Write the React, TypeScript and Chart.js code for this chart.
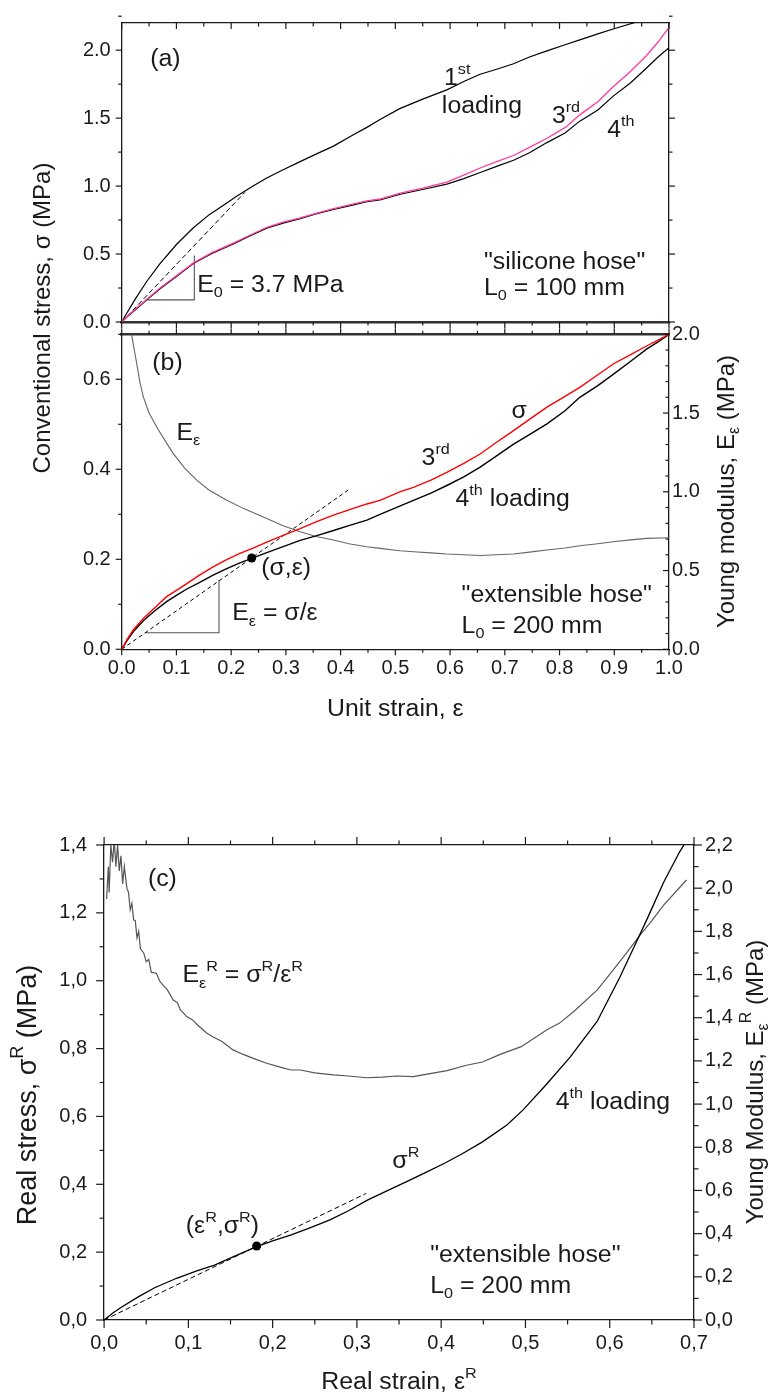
import { useEffect, useRef } from 'react';
import { Chart, registerables } from 'chart.js';

Chart.register(...registerables);

const FONT = '"Liberation Sans", Arial, Helvetica, sans-serif';
const INK = '#1a1a1a';

// ---------------- panel (a): silicone hose ----------------
const A_FIRST_X = [0, 0.01, 0.025, 0.046, 0.07, 0.1, 0.13, 0.16, 0.19, 0.21, 0.24, 0.265, 0.295, 0.326, 0.355, 0.387, 0.42, 0.448, 0.472, 0.508, 0.55, 0.594, 0.625, 0.655, 0.685, 0.716, 0.745, 0.777, 0.81, 0.837, 0.87, 0.898, 0.935, 0.96];
const A_FIRST_Y = [0, 0.07, 0.17, 0.30, 0.43, 0.57, 0.69, 0.79, 0.87, 0.925, 1.0, 1.06, 1.12, 1.18, 1.235, 1.294, 1.37, 1.432, 1.49, 1.57, 1.64, 1.708, 1.77, 1.823, 1.86, 1.90, 1.95, 1.995, 2.04, 2.076, 2.12, 2.156, 2.20, 2.235];
const A_THIRD_X = [0, 0.01, 0.025, 0.046, 0.07, 0.1, 0.131, 0.165, 0.204, 0.235, 0.265, 0.295, 0.326, 0.355, 0.387, 0.42, 0.448, 0.472, 0.509, 0.55, 0.594, 0.625, 0.655, 0.685, 0.716, 0.745, 0.777, 0.81, 0.837, 0.87, 0.898, 0.93, 0.959, 0.98, 1.0];
const A_THIRD_Y = [0, 0.04, 0.095, 0.168, 0.25, 0.34, 0.435, 0.51, 0.581, 0.64, 0.697, 0.735, 0.766, 0.80, 0.834, 0.865, 0.892, 0.905, 0.949, 0.985, 1.03, 1.08, 1.133, 1.18, 1.225, 1.285, 1.352, 1.43, 1.524, 1.62, 1.731, 1.845, 1.961, 2.06, 2.168];
const A_FOURTH_X = [0, 0.01, 0.025, 0.046, 0.07, 0.1, 0.131, 0.165, 0.204, 0.235, 0.265, 0.295, 0.326, 0.355, 0.387, 0.42, 0.448, 0.472, 0.509, 0.55, 0.594, 0.625, 0.655, 0.685, 0.716, 0.745, 0.777, 0.81, 0.837, 0.87, 0.898, 0.93, 0.959, 0.98, 1.0];
const A_FOURTH_Y = [0, 0.038, 0.09, 0.163, 0.245, 0.335, 0.43, 0.505, 0.575, 0.635, 0.69, 0.728, 0.76, 0.795, 0.828, 0.858, 0.885, 0.898, 0.94, 0.975, 1.015, 1.055, 1.10, 1.145, 1.19, 1.245, 1.32, 1.39, 1.478, 1.56, 1.662, 1.76, 1.869, 1.95, 2.018];
const A_TANGENT_X = [0, 0.225];
const A_TANGENT_Y = [0, 0.954];
const A_SLOPE_X = [0.0438, 0.1327, 0.1327];
const A_SLOPE_Y = [0.163, 0.163, 0.49];

// ---------------- panel (b): extensible hose ----------------
const B_THIRD_X = [0, 0.01, 0.021, 0.04, 0.06, 0.082, 0.1, 0.119, 0.14, 0.167, 0.19, 0.216, 0.24, 0.265, 0.295, 0.326, 0.355, 0.387, 0.415, 0.448, 0.472, 0.508, 0.533, 0.565, 0.594, 0.625, 0.655, 0.685, 0.716, 0.745, 0.777, 0.81, 0.837, 0.87, 0.898, 0.93, 0.959, 0.98, 1.0];
const B_THIRD_Y = [0, 0.022, 0.043, 0.069, 0.092, 0.117, 0.131, 0.146, 0.163, 0.183, 0.198, 0.213, 0.225, 0.238, 0.253, 0.268, 0.283, 0.298, 0.31, 0.323, 0.331, 0.35, 0.36, 0.376, 0.393, 0.413, 0.434, 0.46, 0.486, 0.511, 0.538, 0.562, 0.582, 0.61, 0.634, 0.655, 0.674, 0.687, 0.70];
const B_FOURTH_X = [0, 0.01, 0.021, 0.04, 0.06, 0.082, 0.1, 0.119, 0.14, 0.167, 0.19, 0.216, 0.24, 0.265, 0.295, 0.326, 0.355, 0.387, 0.415, 0.448, 0.472, 0.508, 0.533, 0.565, 0.594, 0.625, 0.655, 0.685, 0.716, 0.745, 0.777, 0.81, 0.837, 0.87, 0.898, 0.93, 0.959, 0.98, 1.0];
const B_FOURTH_Y = [0, 0.02, 0.039, 0.064, 0.085, 0.106, 0.12, 0.134, 0.147, 0.165, 0.178, 0.192, 0.203, 0.215, 0.228, 0.242, 0.252, 0.264, 0.275, 0.287, 0.300, 0.318, 0.331, 0.347, 0.364, 0.383, 0.405, 0.43, 0.456, 0.477, 0.501, 0.53, 0.56, 0.586, 0.611, 0.64, 0.667, 0.683, 0.70];
const B_MODULUS_X = [0.018, 0.023, 0.0274, 0.033, 0.0395, 0.05, 0.064, 0.08, 0.094, 0.115, 0.137, 0.16, 0.192, 0.225, 0.265, 0.295, 0.326, 0.355, 0.387, 0.415, 0.448, 0.472, 0.508, 0.533, 0.565, 0.594, 0.625, 0.655, 0.685, 0.716, 0.745, 0.777, 0.81, 0.837, 0.87, 0.898, 0.93, 0.959, 1.0];
const B_MODULUS_Y = [2.0, 1.9, 1.815, 1.70, 1.603, 1.50, 1.412, 1.32, 1.244, 1.15, 1.074, 1.01, 0.947, 0.89, 0.831, 0.785, 0.746, 0.716, 0.694, 0.67, 0.651, 0.641, 0.626, 0.619, 0.612, 0.605, 0.60, 0.596, 0.60, 0.605, 0.617, 0.63, 0.643, 0.657, 0.67, 0.683, 0.695, 0.704, 0.708];
const B_SECANT_X = [0, 0.414];
const B_SECANT_Y = [0, 0.354];
const B_SLOPE_X = [0.0438, 0.1778, 0.1778];
const B_SLOPE_Y = [0.0368, 0.0368, 0.1535];
const B_POINT_X = [0.2375];
const B_POINT_Y = [0.203];

// ---------------- panel (c): real stress / strain ----------------
const C_SIGMA_X = [0, 0.01, 0.02, 0.041, 0.06, 0.086, 0.11, 0.131, 0.155, 0.181, 0.2, 0.222, 0.245, 0.268, 0.29, 0.313, 0.335, 0.359, 0.38, 0.404, 0.425, 0.449, 0.478, 0.4975, 0.525, 0.553, 0.585, 0.612, 0.628, 0.644, 0.664, 0.683, 0.6905, 0.70];
const C_SIGMA_Y = [0, 0.02, 0.037, 0.069, 0.095, 0.123, 0.145, 0.162, 0.188, 0.216, 0.233, 0.251, 0.272, 0.295, 0.322, 0.354, 0.38, 0.408, 0.433, 0.462, 0.49, 0.525, 0.575, 0.62, 0.695, 0.775, 0.88, 1.01, 1.095, 1.18, 1.29, 1.38, 1.41, 1.46];
const C_MODULUS_X = [0.003, 0.005, 0.006, 0.008, 0.010, 0.012, 0.014, 0.016, 0.018, 0.020, 0.022, 0.024, 0.027, 0.029, 0.031, 0.033, 0.035, 0.037, 0.039, 0.041, 0.043, 0.047, 0.050, 0.053, 0.056, 0.062, 0.066, 0.070, 0.075, 0.082, 0.087, 0.090, 0.098, 0.105, 0.110, 0.122, 0.130, 0.140, 0.153, 0.165, 0.177, 0.193, 0.210, 0.222, 0.233, 0.250, 0.272, 0.290, 0.312, 0.330, 0.347, 0.367, 0.385, 0.407, 0.430, 0.449, 0.470, 0.495, 0.525, 0.540, 0.557, 0.585, 0.604, 0.620, 0.636, 0.650, 0.664, 0.691];
const C_MODULUS_Y = [1.95, 2.10, 1.98, 2.20, 2.12, 2.22, 2.10, 2.20, 2.08, 2.15, 2.02, 2.10, 2.00, 1.98, 1.90, 1.93, 1.853, 1.85, 1.77, 1.80, 1.72, 1.70, 1.66, 1.67, 1.61, 1.606, 1.57, 1.55, 1.53, 1.482, 1.47, 1.44, 1.405, 1.39, 1.37, 1.328, 1.31, 1.29, 1.251, 1.23, 1.212, 1.189, 1.17, 1.158, 1.158, 1.145, 1.135, 1.13, 1.122, 1.125, 1.13, 1.127, 1.14, 1.155, 1.18, 1.195, 1.23, 1.266, 1.343, 1.374, 1.428, 1.528, 1.621, 1.70, 1.783, 1.85, 1.922, 2.038];
const C_SECANT_X = [0, 0.311];
const C_SECANT_Y = [0, 0.373];
const C_POINT_X = [0.181];
const C_POINT_Y = [0.218];

// ---------------- text labels (anchored in data units) ----------------
const A_NOTES = [
  { x: 0.052, y: 1.886, t: '(a)' },
  { x: 0.589, y: 1.742, t: '1^{st}' },
  { x: 0.585, y: 1.535, t: 'loading' },
  { x: 0.786, y: 1.466, t: '3^{rd}' },
  { x: 0.887, y: 1.363, t: '4^{th}' },
  { x: 0.662, y: 0.388, t: '"silicone hose"' },
  { x: 0.662, y: 0.202, t: 'L_{0} = 100 mm' },
  { x: 0.138, y: 0.223, t: 'E_{0} = 3.7 MPa' },
];
const B_NOTES = [
  { x: 0.056, y: 0.62, t: '(b)' },
  { x: 0.1, y: 0.466, t: 'E_{ε}' },
  { x: 0.255, y: 0.1646, t: '(σ,ε)' },
  { x: 0.202, y: 0.0649, t: 'E_{ε} = σ/ε' },
  { x: 0.712, y: 0.513, t: 'σ' },
  { x: 0.548, y: 0.41, t: '3^{rd}' },
  { x: 0.61, y: 0.3175, t: '4^{th} loading' },
  { x: 0.621, y: 0.1054, t: '"extensible hose"' },
  { x: 0.621, y: 0.0368, t: 'L_{0} = 200 mm' },
];
const C_NOTES = [
  { x: 0.052, y: 1.28, t: '(c)' },
  { x: 0.093, y: 0.996, t: 'E_{ε}^{R} = σ^{R}/ε^{R}' },
  { x: 0.342, y: 0.449, t: 'σ^{R}' },
  { x: 0.097, y: 0.256, t: '(ε^{R},σ^{R})' },
  { x: 0.536, y: 0.622, t: '4^{th} loading' },
  { x: 0.387, y: 0.172, t: '"extensible hose"' },
  { x: 0.387, y: 0.08, t: 'L_{0} = 200 mm' },
];

const X_TICKS_AB = [0, 1, 0.1];
const X_TICKS_C = [0, 0.7, 0.1];

// ---------------- rich text helpers ----------------
type Seg = { t: string; k?: 'sup' | 'sub' };
function parseRich(s: string): Seg[] {
  const out: Seg[] = [];
  let buf = '';
  let i = 0;
  while (i < s.length) {
    const c = s[i];
    if ((c === '_' || c === '^') && s[i + 1] === '{') {
      if (buf) { out.push({ t: buf }); buf = ''; }
      const end = s.indexOf('}', i + 2);
      out.push({ t: s.slice(i + 2, end), k: c === '_' ? 'sub' : 'sup' });
      i = end + 1;
    } else {
      buf += c;
      i++;
    }
  }
  if (buf) out.push({ t: buf });
  return out;
}

const STRETCH = 1.08;

function drawRich(ctx: CanvasRenderingContext2D, text: string, x: number, y: number, size: number, align: 'left' | 'center', rot = 0) {
  const segs = parseRich(text);
  ctx.save();
  ctx.translate(x, y);
  if (rot) ctx.rotate(rot);
  else ctx.scale(STRETCH, 1);
  ctx.textAlign = 'left';
  ctx.textBaseline = 'alphabetic';
  ctx.fillStyle = INK;
  const fontOf = (k?: string) => `${k ? Math.round(size * 0.66) : size}px ${FONT}`;
  let w = 0;
  for (const s of segs) { ctx.font = fontOf(s.k); w += ctx.measureText(s.t).width; }
  let cx = align === 'center' ? -w / 2 : 0;
  const base = rot ? size * 0.36 : 0;
  for (const s of segs) {
    ctx.font = fontOf(s.k);
    const dy = s.k === 'sup' ? -size * 0.48 : s.k === 'sub' ? size * 0.24 : 0;
    ctx.fillText(s.t, cx, base + dy);
    cx += ctx.measureText(s.t).width;
  }
  ctx.restore();
}

type Note = { x: number; y: number; t: string; yAxis?: string };
type Title = { t: string; x: number; y: number; size: number; rot?: number };
function textPlugin(notes: Note[], titles: Title[], size: number) {
  return {
    id: 'richText',
    afterDraw(chart: any) {
      const ctx = chart.ctx as CanvasRenderingContext2D;
      const xs = chart.scales.x;
      for (const n of notes) {
        const ys = chart.scales[n.yAxis || 'y'];
        drawRich(ctx, n.t, xs.getPixelForValue(n.x), ys.getPixelForValue(n.y), size, 'left');
      }
      for (const t of titles) drawRich(ctx, t.t, t.x, t.y, t.size, 'center', t.rot || 0);
    },
  };
}

type TickSpec = { id: string; major: number; minor: number; dir: 'in' | 'out'; len: number; mlen: number };
function ticksPlugin(specs: TickSpec[]) {
  return {
    id: 'axisTicks',
    afterDraw(chart: any) {
      const ctx = chart.ctx as CanvasRenderingContext2D;
      ctx.save();
      ctx.strokeStyle = INK;
      ctx.lineWidth = 1.2;
      for (const sp of specs) {
        const sc = chart.scales[sp.id];
        if (!sc) continue;
        const n = Math.round((sc.max - sc.min) / sp.minor);
        const s = sp.dir === 'out' ? 1 : -1;
        const pos = sc.options.position;
        for (let i = 0; i <= n; i++) {
          const v = sc.min + i * sp.minor;
          const r = v / sp.major;
          const isMajor = Math.abs(r - Math.round(r)) < 1e-6;
          const L = isMajor ? sp.len : sp.mlen;
          const p = sc.getPixelForValue(v);
          ctx.beginPath();
          if (pos === 'bottom') { ctx.moveTo(p, sc.top); ctx.lineTo(p, sc.top + s * L); }
          else if (pos === 'top') { ctx.moveTo(p, sc.bottom); ctx.lineTo(p, sc.bottom - s * L); }
          else if (pos === 'left') { ctx.moveTo(sc.right, p); ctx.lineTo(sc.right - s * L, p); }
          else { ctx.moveTo(sc.left, p); ctx.lineTo(sc.left + s * L, p); }
          ctx.stroke();
        }
      }
      ctx.restore();
    },
  };
}

// ---------------- chart builders ----------------
const dot = (v: number) => Number(v).toFixed(1);
const comma = (v: number) => Number(v).toFixed(1).replace('.', ',');

function axis(o: { pos: string; min: number; max: number; size: number; step?: number; labels?: boolean; pad?: number; fmt?: (v: number) => string; border?: number; borderColor?: string }) {
  const horizontal = o.pos === 'top' || o.pos === 'bottom';
  return {
    type: 'linear',
    position: o.pos,
    min: o.min,
    max: o.max,
    afterFit: (s: any) => { if (horizontal) s.height = o.size; else s.width = o.size; },
    grid: { display: false, drawTicks: false },
    border: { display: true, color: o.borderColor || INK, width: o.border ?? 1.3 },
    ticks: {
      display: !!o.labels,
      stepSize: o.step,
      padding: o.pad ?? 6,
      autoSkip: false,
      maxRotation: 0,
      minRotation: 0,
      includeBounds: false,
      maxTicksLimit: 100,
      color: INK,
      font: { family: FONT, size: 20 },
      callback: o.fmt,
    },
  };
}

function series(xs: number[], ys: number[], color: string, width: number, extra: any = {}) {
  return {
    type: 'line',
    data: xs.map((x, i) => ({ x, y: ys[i] })),
    borderColor: color,
    backgroundColor: color,
    borderWidth: width,
    pointRadius: 0,
    fill: false,
    tension: 0,
    ...extra,
  };
}

function base(datasets: any[], scales: any, plugins: any[]) {
  return {
    type: 'line',
    data: { datasets },
    options: {
      responsive: false,
      maintainAspectRatio: false,
      animation: false,
      events: [],
      layout: { padding: 0 },
      plugins: { legend: { display: false }, tooltip: { enabled: false } },
      scales,
    },
    plugins,
  } as any;
}

function configA() {
  return base(
    [
      series(A_THIRD_X, A_THIRD_Y, '#ff3aa0', 1.3),
      series(A_FOURTH_X, A_FOURTH_Y, '#000000', 1.2),
      series(A_FIRST_X, A_FIRST_Y, '#000000', 1.2),
      series(A_TANGENT_X, A_TANGENT_Y, '#000000', 1, { borderDash: [5, 3] }),
      series(A_SLOPE_X, A_SLOPE_Y, '#555555', 1.1),
    ],
    {
      x: axis({ pos: 'bottom', min: X_TICKS_AB[0], max: X_TICKS_AB[1], size: 345 - 334.3, border: 2.6, borderColor: '#333' }),
      xt: axis({ pos: 'top', min: X_TICKS_AB[0], max: X_TICKS_AB[1], size: 14.7 }),
      y: axis({ pos: 'left', min: 0, max: 2.2, size: 121.7, step: 0.5, labels: true, pad: 11, fmt: dot }),
      yr: axis({ pos: 'right', min: 0, max: 2.2, size: 101 }),
    },
    [
      ticksPlugin([
        { id: 'x', major: 0.1, minor: 0.05, dir: 'out', len: 6, mlen: 3.5 },
        { id: 'xt', major: 0.1, minor: 0.05, dir: 'in', len: 6, mlen: 3.5 },
        { id: 'y', major: 0.5, minor: 0.25, dir: 'out', len: 6, mlen: 3.5 },
        { id: 'yr', major: 0.5, minor: 0.25, dir: 'out', len: 6, mlen: 3.5 },
      ]),
      textPlugin(A_NOTES, [], 23),
    ],
  );
}

function configB() {
  return base(
    [
      series(B_POINT_X, B_POINT_Y, '#000000', 0, { showLine: false, pointRadius: 4.5, pointBackgroundColor: '#000', pointBorderWidth: 0 }),
      series(B_THIRD_X, B_THIRD_Y, '#ff0000', 1.4),
      series(B_FOURTH_X, B_FOURTH_Y, '#000000', 1.4),
      series(B_SECANT_X, B_SECANT_Y, '#000000', 1, { borderDash: [4, 3] }),
      series(B_SLOPE_X, B_SLOPE_Y, '#555555', 1.1),
      series(B_MODULUS_X, B_MODULUS_Y, '#666666', 1.1, { yAxisID: 'y2' }),
    ],
    {
      x: axis({ pos: 'bottom', min: X_TICKS_AB[0], max: X_TICKS_AB[1], size: 740 - 649.3, step: X_TICKS_AB[2], labels: true, pad: 7, fmt: dot }),
      xt: axis({ pos: 'top', min: X_TICKS_AB[0], max: X_TICKS_AB[1], size: 334.3, border: 2.6, borderColor: '#333' }),
      y: axis({ pos: 'left', min: 0, max: 0.7, size: 121.7, step: 0.2, labels: true, pad: 11, fmt: dot }),
      y2: axis({ pos: 'right', min: 0, max: 2, size: 101, step: 0.5, labels: true, pad: 3, fmt: dot }),
    },
    [
      ticksPlugin([
        { id: 'x', major: 0.1, minor: 0.05, dir: 'out', len: 6, mlen: 3.5 },
        { id: 'xt', major: 0.1, minor: 0.05, dir: 'out', len: 6, mlen: 3.5 },
        { id: 'y', major: 0.2, minor: 0.1, dir: 'out', len: 6, mlen: 3.5 },
        { id: 'y2', major: 0.5, minor: 0.1, dir: 'in', len: 6, mlen: 3.5 },
      ]),
      textPlugin(B_NOTES, [
        { t: 'Conventional stress, σ (MPa)', x: 41, y: 318, size: 24, rot: -Math.PI / 2 },
        { t: 'Young modulus, E_{ε} (MPa)', x: 725, y: 491.5, size: 24, rot: -Math.PI / 2 },
        { t: 'Unit strain, ε', x: 395.3, y: 716, size: 23 },
      ], 23),
    ],
  );
}

function configC() {
  return base(
    [
      series(C_POINT_X, C_POINT_Y, '#000000', 0, { showLine: false, pointRadius: 4.5, pointBackgroundColor: '#000', pointBorderWidth: 0 }),
      series(C_SIGMA_X, C_SIGMA_Y, '#000000', 1.3),
      series(C_SECANT_X, C_SECANT_Y, '#000000', 1, { borderDash: [5, 3] }),
      series(C_MODULUS_X, C_MODULUS_Y, '#555555', 1.2, { yAxisID: 'y2' }),
    ],
    {
      x: axis({ pos: 'bottom', min: X_TICKS_C[0], max: X_TICKS_C[1], size: 80, step: X_TICKS_C[2], labels: true, pad: 11, fmt: comma }),
      xt: axis({ pos: 'top', min: X_TICKS_C[0], max: X_TICKS_C[1], size: 845 }),
      y: axis({ pos: 'left', min: 0, max: 1.4, size: 104.1, step: 0.2, labels: true, pad: 17, fmt: comma }),
      y2: axis({ pos: 'right', min: 0, max: 2.2, size: 76, step: 0.2, labels: true, pad: 11, fmt: comma }),
    },
    [
      ticksPlugin([
        { id: 'x', major: 0.1, minor: 0.05, dir: 'out', len: 8, mlen: 4.5 },
        { id: 'xt', major: 0.1, minor: 0.05, dir: 'out', len: 8, mlen: 4.5 },
        { id: 'y', major: 0.2, minor: 0.1, dir: 'out', len: 8, mlen: 4.5 },
        { id: 'y2', major: 0.2, minor: 0.1, dir: 'out', len: 8, mlen: 4.5 },
      ]),
      textPlugin(C_NOTES, [
        { t: 'Real stress, σ^{R} (MPa)', x: 26, y: 1095, size: 27, rot: -Math.PI / 2 },
        { t: 'Young Modulus, E_{ε}^{R} (MPa)', x: 754, y: 1082, size: 24, rot: -Math.PI / 2 },
        { t: 'Real strain, ε^{R}', x: 399, y: 1389, size: 23 },
      ], 23),
    ],
  );
}

export default function App() {
  const refA = useRef<HTMLCanvasElement>(null);
  const refB = useRef<HTMLCanvasElement>(null);
  const refC = useRef<HTMLCanvasElement>(null);

  useEffect(() => {
    const charts = [
      new Chart(refB.current as HTMLCanvasElement, configB()),
      new Chart(refA.current as HTMLCanvasElement, configA()),
      new Chart(refC.current as HTMLCanvasElement, configC()),
    ];
    return () => charts.forEach((c) => c.destroy());
  }, []);

  const abs: any = { position: 'absolute', left: 0, top: 0 };
  return (
    <div style={{ position: 'absolute', left: 0, top: 0, width: 770, height: 1400, background: '#ffffff', overflow: 'hidden' }}>
      <canvas ref={refB} width={770} height={740} style={abs} />
      <canvas ref={refA} width={770} height={345} style={abs} />
      <canvas ref={refC} width={770} height={1400} style={abs} />
    </div>
  );
}
